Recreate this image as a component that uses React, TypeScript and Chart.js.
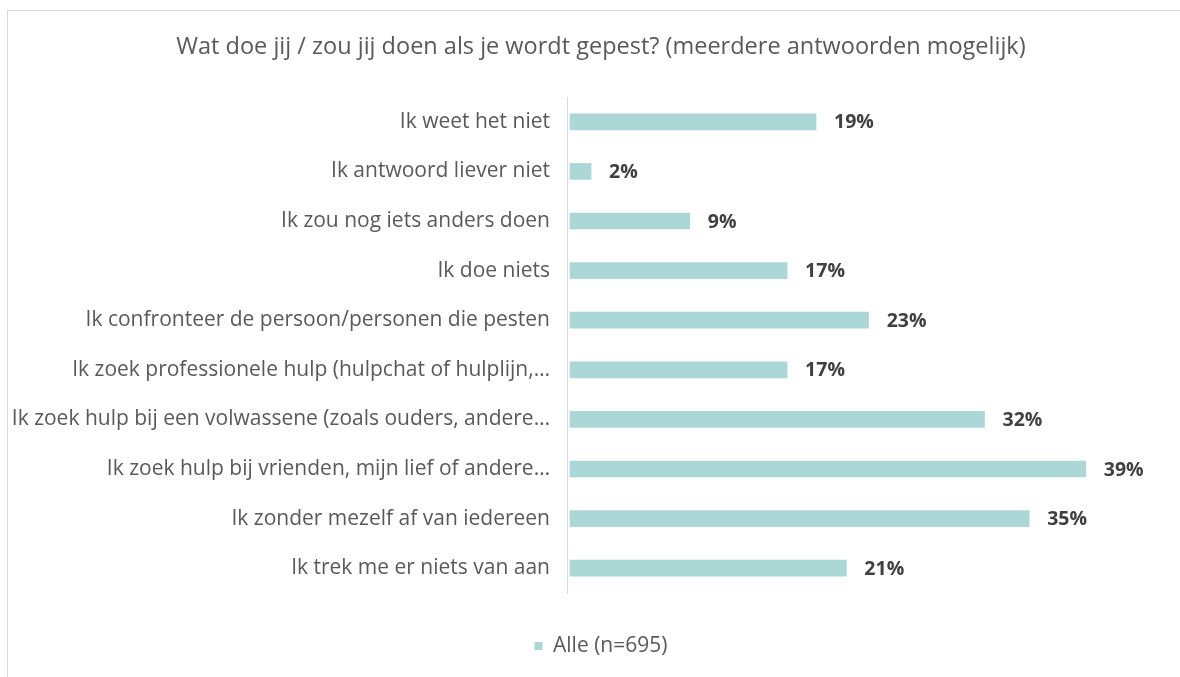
import React, { useEffect, useRef } from "react";
import { Chart, registerables } from "chart.js";

Chart.register(...registerables);

const TITLE = "Wat doe jij / zou jij doen als je wordt gepest? (meerdere antwoorden mogelijk)";
const SERIES_NAME = "Alle (n=695)";

const categories = [
  "Ik weet het niet",
  "Ik antwoord liever niet",
  "Ik zou nog iets anders doen",
  "Ik doe niets",
  "Ik confronteer de persoon/personen die pesten",
  "Ik zoek professionele hulp (hulpchat of hulplijn,…",
  "Ik zoek hulp bij een volwassene (zoals ouders, andere…",
  "Ik zoek hulp bij vrienden, mijn lief of andere…",
  "Ik zonder mezelf af van iedereen",
  "Ik trek me er niets van aan",
];

const values = [18.7, 1.6, 9.1, 16.5, 22.7, 16.5, 31.5, 39.2, 34.9, 21.0];

const valueLabels = ["19%", "2%", "9%", "17%", "23%", "17%", "32%", "39%", "35%", "21%"];

const FONT = "'Open Sans', 'Noto Sans', sans-serif";
const TEXT = "#595959";
const BAR = "#abd7d7";

export default function App() {
  const ref = useRef<HTMLCanvasElement>(null);

  useEffect(() => {
    document.body.style.margin = "0";
    const valuePlugin = {
      id: "valueLabels",
      afterDatasetsDraw(chart: any) {
        const { ctx } = chart;
        const meta = chart.getDatasetMeta(0);
        ctx.save();
        ctx.font = `bold 19.5px ${FONT}`;
        ctx.fillStyle = "#404040";
        ctx.textAlign = "left";
        ctx.textBaseline = "middle";
        meta.data.forEach((bar: any, i: number) => {
          ctx.fillText(valueLabels[i], bar.x + 18, bar.y + 1);
        });
        ctx.restore();
      },
    };

    const chart = new Chart(ref.current as HTMLCanvasElement, {
      type: "bar",
      data: {
        labels: categories,
        datasets: [
          {
            label: SERIES_NAME,
            data: values,
            backgroundColor: BAR,
            borderWidth: 0,
            barThickness: 16,
          },
        ],
      },
      options: {
        indexAxis: "y",
        responsive: false,
        animation: false,
        layout: { padding: { top: 0, left: 0, right: 0, bottom: 10.5 } },
        scales: {
          x: {
            min: -0.23,
            max: 47.5,
            ticks: { display: false },
            grid: { display: false, drawTicks: false },
            border: { display: false },
            afterFit: (scale: any) => {
              scale.height = 32.5;
            },
          },
          y: {
            ticks: {
              color: TEXT,
              font: { family: FONT, size: 21 },
              padding: 17,
              autoSkip: false,
            },
            grid: { display: false, drawTicks: false },
            border: { display: true, color: "#d9d9d9", width: 1 },
            afterFit: (scale: any) => {
              scale.width = 560;
            },
          },
        },
        plugins: {
          title: {
            display: true,
            text: TITLE,
            color: TEXT,
            font: { family: FONT, size: 23.5, weight: "normal" },
            padding: { top: 23.5, bottom: 35.3 },
          },
          legend: {
            display: true,
            position: "bottom",
            labels: {
              color: TEXT,
              font: { family: FONT, size: 21 },
              boxWidth: 8,
              boxHeight: 8,
              padding: 10,
            },
          },
          tooltip: { enabled: false },
        },
      },
      plugins: [valuePlugin],
    });
    return () => chart.destroy();
  }, []);

  return (
    <div style={{ position: "relative", width: 1180, height: 677, overflow: "hidden", background: "#fff" }}>
      <div
        style={{
          position: "absolute",
          left: 7,
          top: 10,
          width: 1250,
          height: 700,
          borderTop: "1px solid #d9d9d9",
          borderLeft: "1px solid #d9d9d9",
        }}
      />
      <canvas
        ref={ref}
        width={1188}
        height={667}
        style={{ position: "absolute", left: 7, top: 10, width: 1188, height: 667 }}
      />
    </div>
  );
}
